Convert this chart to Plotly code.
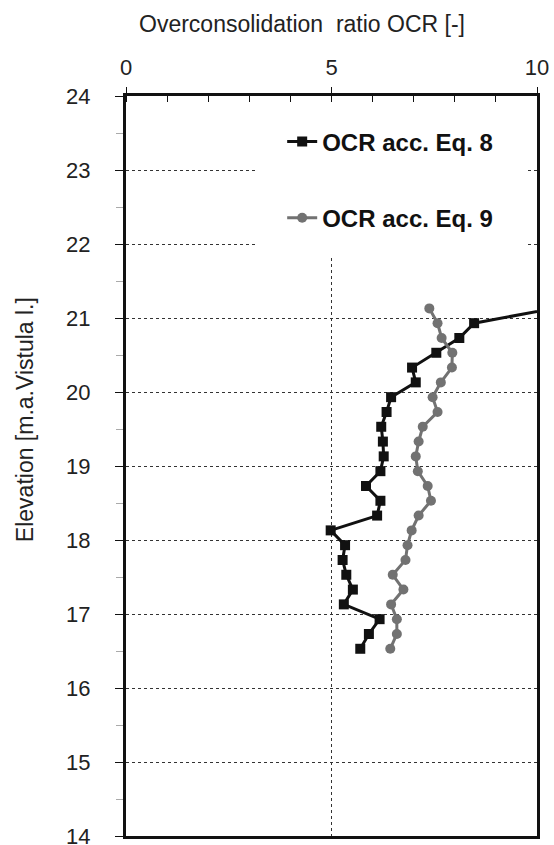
import plotly.graph_objects as go

elevation = [21.13, 20.93, 20.73, 20.53, 20.33, 20.13, 19.93, 19.73, 19.53, 19.33, 19.13, 18.93,
             18.73, 18.53, 18.33, 18.13, 17.93, 17.73, 17.53, 17.33, 17.13, 16.93, 16.73, 16.53]
ocr_eq8 = [10.4, 8.47, 8.11, 7.55, 6.96, 7.05, 6.45, 6.34, 6.21, 6.25, 6.27, 6.19,
           5.84, 6.19, 6.11, 4.98, 5.33, 5.27, 5.36, 5.52, 5.30, 6.17, 5.91, 5.70]
ocr_eq9 = [7.38, 7.58, 7.68, 7.94, 7.93, 7.66, 7.46, 7.58, 7.22, 7.12, 7.05, 7.10,
           7.34, 7.42, 7.12, 6.95, 6.85, 6.80, 6.49, 6.75, 6.45, 6.59, 6.59, 6.43]
x_ticks = [0, 5, 10]
y_ticks = list(range(14, 25))

FONT = "Liberation Sans, Arial, sans-serif"

fig = go.Figure()
fig.add_trace(go.Scatter(
    x=ocr_eq8, y=elevation, mode="lines+markers", name="OCR acc. Eq. 8",
    line=dict(color="#111111", width=3),
    marker=dict(symbol="square", size=10, color="#111111"),
    legend="legend", showlegend=True,
))
fig.add_trace(go.Scatter(
    x=ocr_eq9, y=elevation, mode="lines+markers", name="OCR acc. Eq. 9",
    line=dict(color="#727272", width=3),
    marker=dict(symbol="circle", size=10, color="#727272"),
    legend="legend2", showlegend=True,
))

# white area behind the legend (covers grid lines)
fig.add_shape(type="rect", xref="x", yref="y", x0=3.14, x1=9.71, y0=21.84, y1=24,
              fillcolor="white", line=dict(width=0), layer="between")

legend_common = dict(
    font=dict(family=FONT, size=24, color="#111111", weight="bold"),
    bgcolor="rgba(0,0,0,0)", borderwidth=0,
    xanchor="left", yanchor="middle",
)

fig.update_layout(
    width=554, height=845,
    margin=dict(l=126, r=17, t=96, b=9, autoexpand=False),
    paper_bgcolor="white", plot_bgcolor="white",
    showlegend=True,
    font=dict(family=FONT, size=22, color="#222222"),
    legend=dict(x=0.380, y=0.938, **legend_common),
    legend2=dict(x=0.380, y=0.835, **legend_common),
    xaxis=dict(
        side="top", range=[0, 10], tickvals=x_ticks, ticktext=[str(v) for v in x_ticks],
        showline=True, linecolor="#111111", linewidth=3, mirror=True,
        ticks="outside", ticklen=6, tickwidth=1, tickcolor="#111111",
        ticklabelstandoff=3, automargin=False,
        showgrid=True, gridcolor="#333333", gridwidth=1, griddash="dot",
        minor=dict(dtick=1, ticks="inside", ticklen=6, tickcolor="#111111", showgrid=False),
        zeroline=False, tickfont=dict(size=22),
    ),
    yaxis=dict(
        range=[14, 24], tickvals=y_ticks, ticktext=[str(v) for v in y_ticks],
        showline=True, linecolor="#111111", linewidth=3, mirror=True,
        ticks="outside", ticklen=8, tickwidth=1, tickcolor="#111111",
        ticklabelstandoff=20, ticklabeloverflow="allow", automargin=False,
        showgrid=True, gridcolor="#333333", gridwidth=1, griddash="dot",
        minor=dict(dtick=0.5, ticks="outside", ticklen=7, tickcolor="#aaaaaa", showgrid=False),
        zeroline=False, tickfont=dict(size=22),
    ),
    annotations=[
        dict(text="Overconsolidation\u00a0 ratio OCR [-]", xref="paper", yref="paper",
             x=0.4294, y=1.097, xanchor="center", yanchor="middle", showarrow=False,
             font=dict(family=FONT, size=23, color="#222222")),
        dict(text="Elevation [m.a.Vistula l.]", xref="paper", yref="paper",
             x=-0.2457, y=0.562, xanchor="center", yanchor="middle", showarrow=False,
             textangle=-90, font=dict(family=FONT, size=23, color="#222222")),
    ],
)

fig.write_html("out.html")
